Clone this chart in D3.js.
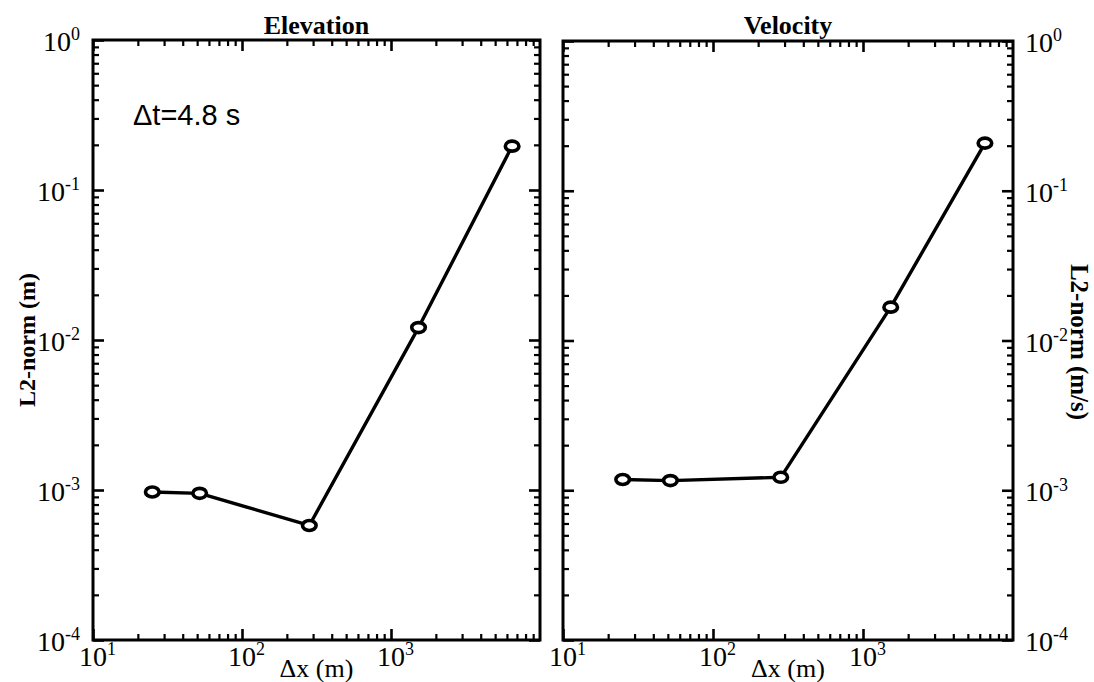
<!DOCTYPE html>
<html>
<head>
<meta charset="utf-8">
<script src="https://cdn.jsdelivr.net/npm/d3@7"></script>
<style>
  html, body { margin: 0; padding: 0; background: #fff; }
  svg { display: block; }
  text { fill: #000; }
</style>
</head>
<body>
<svg id="chart" width="1094" height="682"></svg>
<script>
// Grid spacing (m) shared by both runs
const dx = [25, 52, 283, 1530, 6500];
// L2-norm of the elevation error (m)
const elevation = [0.00097, 0.00095, 0.00058, 0.0121, 0.196];
// L2-norm of the velocity error (m/s)
const velocity = [0.00118, 0.00116, 0.00122, 0.0167, 0.208];

const xMajor = [10, 100, 1000];
const yMajor = [1, 0.1, 0.01, 0.001, 0.0001];
const xExp = [1, 2, 3];
const yExp = [0, -1, -2, -3, -4];

const svg = d3.select("#chart");
const serif = "'Liberation Serif', 'Times New Roman', serif";

function minorTicks(lo, hi) {
  const out = [];
  for (let e = Math.floor(Math.log10(lo)); e < Math.ceil(Math.log10(hi)); e++) {
    for (let m = 2; m <= 9; m++) {
      const v = m * Math.pow(10, e);
      if (v > lo && v < hi) out.push(v);
    }
  }
  return out;
}

// Replace an axis label with "10" plus a raised exponent
function powerLabels(sel, exps) {
  sel.selectAll(".tick text").each(function(d, i) {
    const t = d3.select(this);
    t.text(null)
      .attr("font-family", serif)
      .attr("font-size", 28);
    t.append("tspan").text("10");
    t.append("tspan").text(exps[i]).attr("font-size", 18).attr("dy", "-0.6em");
  });
}

function panel(opts) {
  const { left, right, top, bottom, values, title, yLabelSide, yTitle } = opts;
  const x = d3.scaleLog().domain([10, 10000]).range([left, right]);
  const y = d3.scaleLog().domain([0.0001, 1]).range([bottom, top]);
  const g = svg.append("g");

  const xMinor = minorTicks(10, 10000);
  const yMinor = minorTicks(0.0001, 1);

  // ticks on all four sides, pointing inward
  const sides = [
    { axis: d3.axisBottom, pos: `translate(0,${bottom})`, scale: x, major: xMajor, minor: xMinor, label: true, pad: 10 },
    { axis: d3.axisTop, pos: `translate(0,${top})`, scale: x, major: xMajor, minor: xMinor, label: false, pad: 10 },
    { axis: d3.axisLeft, pos: `translate(${left},0)`, scale: y, major: yMajor, minor: yMinor, label: yLabelSide === "left", pad: 13 },
    { axis: d3.axisRight, pos: `translate(${right},0)`, scale: y, major: yMajor, minor: yMinor, label: yLabelSide === "right", pad: 12 }
  ];
  sides.forEach(s => {
    const minorG = g.append("g").attr("transform", s.pos)
      .call(s.axis(s.scale).tickValues(s.minor).tickSize(-6).tickFormat(""));
    minorG.select(".domain").remove();
    minorG.selectAll("line").attr("stroke", "#000").attr("stroke-width", 2.2);

    const majorG = g.append("g").attr("transform", s.pos)
      .call(s.axis(s.scale).tickValues(s.major).tickSize(-11).tickPadding(s.pad)
        .tickFormat(s.label ? (d => String(d)) : ""));
    majorG.select(".domain").remove();
    majorG.selectAll("line").attr("stroke", "#000").attr("stroke-width", 2.6);
    if (s.label) {
      const isX = s.scale === x;
      powerLabels(majorG, isX ? xExp : yExp);
      if (isX) {
        majorG.selectAll(".tick text").attr("dy", "0.72em").attr("y", 6).attr("dx", 4);
      } else {
        majorG.selectAll(".tick text").attr("dy", "0.38em");
      }
    }
  });

  // frame
  g.append("rect")
    .attr("x", left).attr("y", top)
    .attr("width", right - left).attr("height", bottom - top)
    .attr("fill", "none").attr("stroke", "#000").attr("stroke-width", 3);

  // data line
  const pts = dx.map((d, i) => [x(d), y(values[i])]);
  g.append("path")
    .attr("d", d3.line()(pts))
    .attr("fill", "none").attr("stroke", "#000").attr("stroke-width", 3.4)
    .attr("stroke-linejoin", "round");
  g.selectAll("ellipse.pt").data(dx.map((d, i) => ({ d, v: values[i] })))
    .join("ellipse")
    .attr("class", "pt")
    .attr("cx", p => x(p.d)).attr("cy", p => y(p.v))
    .attr("rx", 6.8).attr("ry", 5)
    .attr("fill", "#fff").attr("stroke", "#000").attr("stroke-width", 3.6);

  // titles
  g.append("text")
    .attr("x", (left + right) / 2).attr("y", 34)
    .attr("text-anchor", "middle")
    .attr("font-family", serif).attr("font-weight", "bold").attr("font-size", 26)
    .text(title);
  g.append("text")
    .attr("x", (left + right) / 2).attr("y", 677)
    .attr("text-anchor", "middle")
    .attr("font-family", serif).attr("font-size", 26)
    .text("\u0394x (m)");

  if (yLabelSide === "left") {
    g.append("text")
      .attr("transform", `translate(35,340) rotate(-90)`)
      .attr("text-anchor", "middle")
      .attr("font-family", serif).attr("font-weight", "bold").attr("font-size", 24)
      .text(yTitle);
  } else {
    g.append("text")
      .attr("transform", `translate(1071,342) rotate(90)`)
      .attr("text-anchor", "middle")
      .attr("font-family", serif).attr("font-weight", "bold").attr("font-size", 25)
      .text(yTitle);
  }
  return g;
}

const left = panel({
  left: 93, right: 540, top: 40, bottom: 640,
  values: elevation, title: "Elevation",
  yLabelSide: "left", yTitle: "L2-norm (m)"
});
panel({
  left: 563, right: 1013, top: 41, bottom: 640,
  values: velocity, title: "Velocity",
  yLabelSide: "right", yTitle: "L2-norm (m/s)"
});

left.append("text")
  .attr("x", 133).attr("y", 125)
  .attr("font-family", "'Liberation Sans', Arial, sans-serif")
  .attr("font-size", 29)
  .text("\u0394t=4.8 s");
</script>
</body>
</html>
